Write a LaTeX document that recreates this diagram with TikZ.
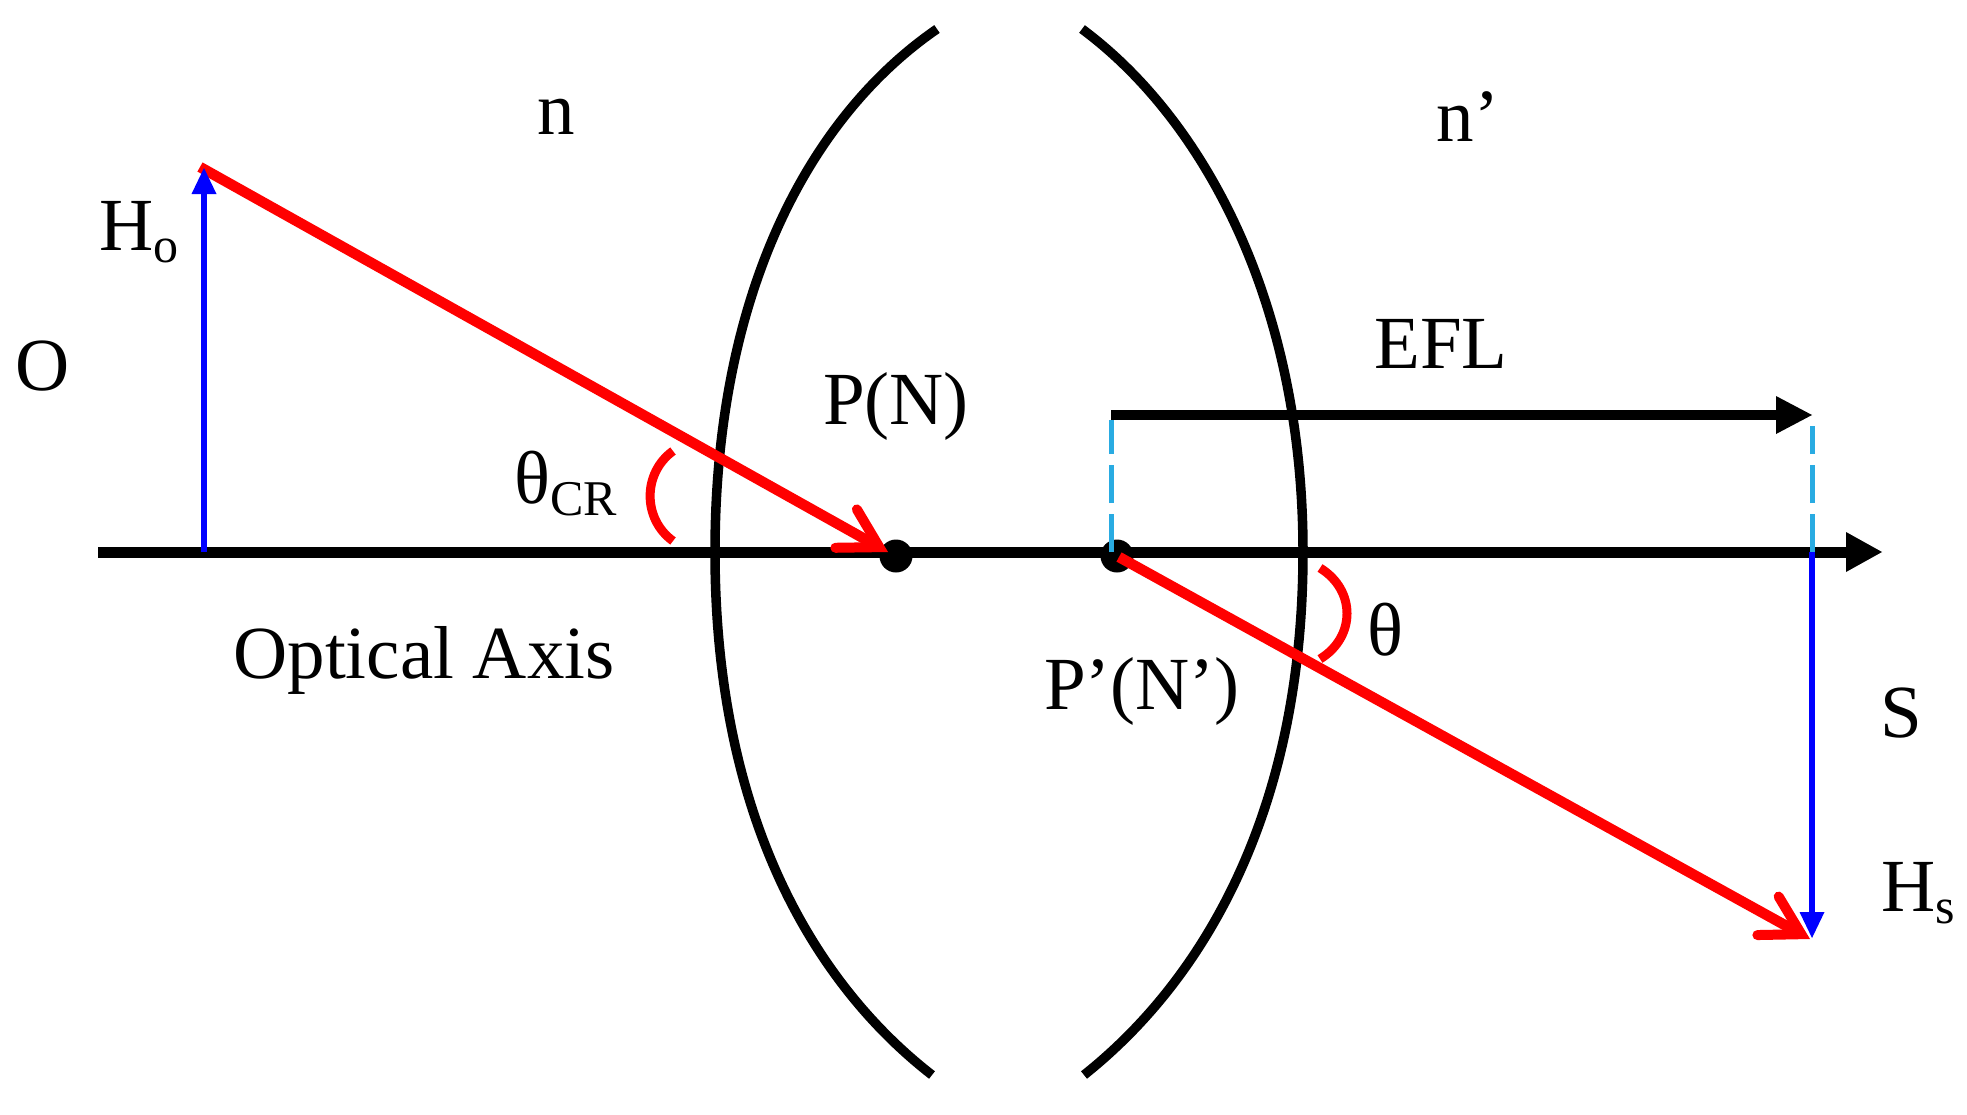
\documentclass[tikz,border=0pt]{standalone}
\usepackage{fontspec}
\setmainfont{Liberation Serif}
\usetikzlibrary{arrows.meta}
\definecolor{rayred}{HTML}{FF0000}
\definecolor{hblue}{HTML}{0000FF}
\definecolor{dashblue}{HTML}{29ABE2}
\tikzset{
  lbl/.style={inner sep=0pt,font=\fontsize{75}{80}\selectfont},
  axisline/.style={black,line width=11pt,-{Triangle[length=36pt,width=40pt,line width=0pt]}},
  eflline/.style={black,line width=10pt,-{Triangle[length=36pt,width=38pt,line width=0pt]}},
  lens/.style={black,line width=9.5pt},
  ray/.style={rayred,line width=10.5pt,-{Straight Barb[length=38pt,width=44pt,line width=10pt,line cap=round,line join=miter]}},
  height/.style={hblue,line width=5.5pt,-{Triangle[length=26pt,width=25pt,line width=0pt]}},
  guide/.style={dashblue,line width=5pt,dash pattern=on 38pt off 11pt},
  anglearc/.style={rayred,line width=9pt},
  pt/.style={circle,fill=black,inner sep=0pt,minimum size=33pt}
}
\begin{document}
\begin{tikzpicture}[x=1pt,y=-1pt]
\useasboundingbox (0,0) rectangle (1967,1114);
% key points
\coordinate (axL) at (98,552);
\coordinate (axR) at (1882,552);
\coordinate (obase) at (204,552);
\coordinate (otop) at (204,168);
\coordinate (rayA) at (200,167);
\coordinate (rayB) at (888,552);
\node[pt] (P) at (896,556) {};
\node[pt] (Pp) at (1117,556) {};
\coordinate (rayC) at (1119,557);
\coordinate (rayD) at (1810,939);
\coordinate (sbase) at (1812,552);
\coordinate (stip) at (1812,938);
\coordinate (eflA) at (1111,415);
\coordinate (eflB) at (1812,415);
\coordinate (dA) at (1111,552);
\coordinate (dB) at (1812,426);
% optical axis
\draw[axisline] (axL) -- (axR);
% lens
\draw[lens] (937,29) .. controls (805,120) and (715,300) .. (715,552)
                     .. controls (715,825) and (820,988) .. (932,1075);
\draw[lens] (1082,29) .. controls (1202,118) and (1303,300) .. (1303,552)
                      .. controls (1303,815) and (1201,982) .. (1084,1075);
% EFL
\draw[eflline] (eflA) -- (eflB);
\draw[guide] (dA) -- (eflA |- 0,420);
\draw[guide] (sbase) -- (dB);
% rays and heights
\draw[ray] (rayA) -- (rayB);
\draw[height] (obase) -- (otop);
\draw[height] (sbase) -- (stip);
\draw[ray] (rayC) -- (rayD);
% angle arcs
\draw[anglearc] (673,451) .. controls (642.5,473) and (642.5,519) .. (673,541);
\draw[anglearc] (1320,568) .. controls (1356,590) and (1356,637) .. (1320,659);
% labels
\node[lbl] (ln) at (556,117) {n};
\node[lbl] (lnp) at (1468,117) {n’};
\node[lbl] (lHo) at (139,232) {H\raisebox{-12pt}{\fontsize{50}{54}\selectfont o}};
\node[lbl] (lO) at (43,366) {O};
\node[lbl] (lPN) at (896,406) {P(N)};
\node[lbl] (lcr) at (566,484) {θ\raisebox{-12pt}{\fontsize{50}{54}\selectfont CR}};
\node[lbl] (lopt) at (424,660) {Optical Axis};
\node[lbl] (lefl) at (1441,344) {EFL};
\node[lbl] (lPpNp) at (1142,691) {P’(N’)};
\node[lbl] (lth) at (1385,630) {θ};
\node[lbl] (lS) at (1901,713) {S};
\node[lbl] (lHs) at (1918,893) {H\raisebox{-12pt}{\fontsize{50}{54}\selectfont s}};
\end{tikzpicture}
\end{document}
